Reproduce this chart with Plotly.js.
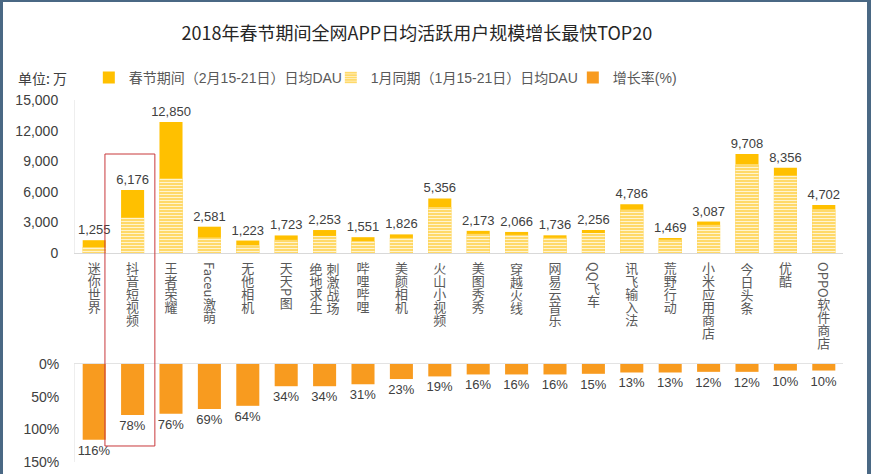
<!DOCTYPE html>
<html>
<head>
<meta charset="utf-8">
<script src="https://cdn.plot.ly/plotly-3.0.1.min.js"></script>
<style>
  html, body { margin: 0; padding: 0; background: #ffffff; }
  #frame { width: 864px; height: 472px; border-left: 3px solid #4a6884; border-top: 2px solid #4a6884; border-right: 4px solid #4a6884; background: #fff; }
  #chart { width: 864px; height: 472px; }
</style>
</head>
<body>
<div id="frame"><div id="chart"></div></div>
<script>
// ---- data ----
var categories = ['迷你世界','抖音短视频','王者荣耀','Faceu激萌','无他相机','天天P图','绝地求生<br>刺激战场','哔哩哔哩','美颜相机','火山小视频','美图秀秀','穿越火线','网易云音乐','QQ飞车','讯飞输入法','荒野行动','小米应用商店','今日头条','优酷','OPPO软件商店'];
var febDAU = [1255, 6176, 12850, 2581, 1223, 1723, 2253, 1551, 1826, 5356, 2173, 2066, 1736, 2256, 4786, 1469, 3087, 9708, 8356, 4702];
var janDAU = [581, 3470, 7301, 1527, 746, 1286, 1681, 1184, 1485, 4501, 1873, 1781, 1497, 1962, 4235, 1300, 2756, 8668, 7596, 4275];
var growth = [116, 78, 76, 69, 64, 34, 34, 31, 23, 19, 16, 16, 16, 15, 13, 13, 12, 12, 10, 10];
var seriesNames = ['春节期间（2月15-21日）日均DAU', '1月同期（1月15-21日）日均DAU', '增长率(%)'];
var yTicks = [0, 3000, 6000, 9000, 12000, 15000];
var pctTicks = [0, 50, 100, 150];
var pctTickText = ['0%', '50%', '100%', '150%'];

var latin = "'Liberation Sans', Arial, 'Noto Sans CJK SC', sans-serif";
var cjk = "'Noto Sans CJK SC', 'Liberation Sans', sans-serif";

var data = [
  {
    type: 'bar', name: seriesNames[0], x: categories, y: febDAU,
    xaxis: 'x', yaxis: 'y',
    marker: { color: '#FFC000' },
    texttemplate: '%{y:,}', textposition: 'outside', constraintext: 'none', cliponaxis: false,
    textfont: { size: 13, color: '#404040', family: latin },
    hoverinfo: 'skip'
  },
  {
    type: 'bar', name: seriesNames[1], x: categories, y: janDAU,
    xaxis: 'x', yaxis: 'y',
    marker: { color: '#FFF2C2', pattern: { shape: '-', fgcolor: '#FFF4CF', bgcolor: '#FFD75E', size: 3, solidity: 0.4 } },
    textposition: 'none',
    hoverinfo: 'skip'
  },
  {
    type: 'bar', name: seriesNames[2], x: categories, y: growth,
    xaxis: 'x2', yaxis: 'y2',
    marker: { color: '#F89B1F' },
    texttemplate: '%{y:d}%', textposition: 'outside', constraintext: 'none', cliponaxis: false,
    textfont: { size: 13, color: '#404040', family: latin },
    hoverinfo: 'skip'
  }
];

var layout = {
  width: 864, height: 472,
  margin: { l: 72, r: 24, t: 98, b: 12 },
  paper_bgcolor: '#ffffff', plot_bgcolor: 'rgba(0,0,0,0)',
  font: { family: latin, color: '#595959', size: 13 },
  barmode: 'overlay', bargap: 0.4,
  showlegend: true,
  title: {
    text: '2018年春节期间全网APP日均活跃用户规模增长最快TOP20',
    font: { family: cjk, size: 18, color: '#262626' },
    x: 0.479, xanchor: 'center', y: 0.932, yanchor: 'middle'
  },
  legend: {
    orientation: 'h', x: 0.018, xanchor: 'left', y: 1.061, yanchor: 'middle',
    font: { size: 14, color: '#595959', family: latin },
    bgcolor: 'rgba(0,0,0,0)', itemwidth: 30, traceorder: 'normal',
    entrywidth: 197, entrywidthmode: 'pixels'
  },
  xaxis: {
    domain: [0, 1], anchor: 'y', type: 'category',
    showline: true, linecolor: '#D9D9D9', linewidth: 1,
    ticks: '', tickangle: 0, showgrid: false, zeroline: false,
    tickfont: { size: 13, color: '#595959', family: cjk }
  },
  yaxis: {
    domain: [0.5773, 1], anchor: 'x', range: [0, 15000],
    tickvals: yTicks, tickformat: ',d',
    showline: true, linecolor: '#EEEEEE', ticks: '', showgrid: false, zeroline: false,
    ticklabelstandoff: 13,
    tickfont: { size: 14, color: '#404040', family: latin }
  },
  xaxis2: {
    domain: [0, 1], anchor: 'y2', type: 'category', matches: 'x', side: 'top',
    showline: true, linecolor: '#E3E3E3', linewidth: 1,
    ticks: '', showticklabels: false, showgrid: false, zeroline: false
  },
  yaxis2: {
    domain: [0, 0.2707], anchor: 'x2', range: [150, 0],
    tickvals: pctTicks, ticktext: pctTickText,
    showline: true, linecolor: '#EEEEEE', ticks: '', showgrid: false, zeroline: false,
    ticklabelstandoff: 12,
    tickfont: { size: 14, color: '#404040', family: latin }
  },
  annotations: [
    { text: '单位: 万', xref: 'paper', yref: 'paper', x: -0.077, y: 1.061, xanchor: 'left', yanchor: 'middle',
      showarrow: false, font: { size: 14, color: '#404040', family: cjk } }
  ],
  shapes: [
    { type: 'rect', xref: 'x', yref: 'paper', x0: 0.28, x1: 1.58, y0: 0.0442, y1: 0.8508,
      line: { color: '#C8383B', width: 1 }, fillcolor: 'rgba(0,0,0,0)' }
  ]
};

var gd = document.getElementById('chart');
Plotly.newPlot(gd, data, layout, { staticPlot: true, displayModeBar: false }).then(function () {
  var fl = gd._fullLayout, xa = fl.xaxis, ya = fl.yaxis;
  var svg = gd.querySelector('.main-svg');
  var svgRect = svg.getBoundingClientRect();
  var topY = ya._offset + ya._length + 9;
  var labels = gd.querySelectorAll('.xaxislayer-above .xtick text');
  labels.forEach(function (t, k) {
    t.style.writingMode = 'vertical-rl';
    t.style.textOrientation = 'mixed';
    t.setAttribute('text-anchor', 'start');
    var bx = parseFloat(t.getAttribute('x')) || 0;
    var by = parseFloat(t.getAttribute('y')) || 0;
    var lines = t.querySelectorAll('tspan.line');
    if (lines.length > 1) {
      lines.forEach(function (ln, i) {
        ln.removeAttribute('dy');
        ln.setAttribute('x', bx + (i - (lines.length - 1) / 2) * 17);
        ln.setAttribute('y', by);
      });
    }
    var r = t.getBoundingClientRect();
    var cx = svgRect.left + xa._offset + xa.l2p(k);
    var dx = cx - (r.left + r.width / 2);
    var dy = (svgRect.top + topY) - r.top;
    var tr = t.getAttribute('transform') || '';
    t.setAttribute('transform', tr + ' translate(' + dx + ',' + dy + ')');
  });
});
</script>
</body>
</html>
